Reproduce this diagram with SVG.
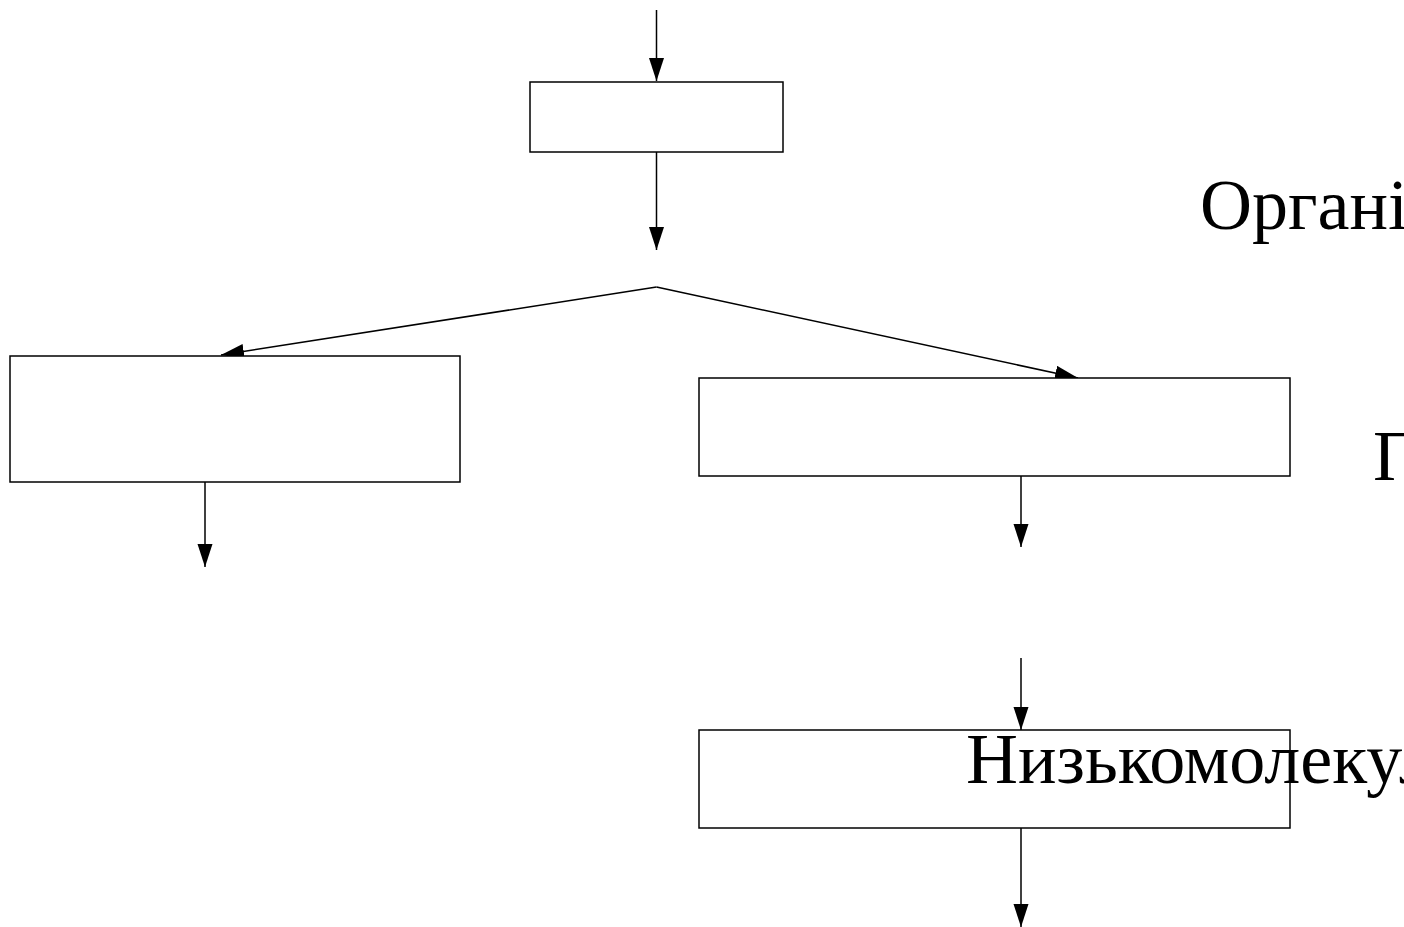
<svg xmlns="http://www.w3.org/2000/svg" width="1404" height="927" viewBox="0 0 1404 927">
  <defs>
    <marker id="arr" markerWidth="24" markerHeight="16" refX="23" refY="7.5" orient="auto" markerUnits="userSpaceOnUse">
      <path d="M0,0 L23,7.5 L0,15 Z" fill="#000"/>
    </marker>
    <style>
      .box { fill: #fff; stroke: #000; stroke-width: 1.5; }
      .ln { fill: none; stroke: #000; stroke-width: 1.5; }
      .lbl { font-family: "Liberation Serif", "Times New Roman", serif; font-size: 72px; fill: #000; }
    </style>
  </defs>
  <rect width="1404" height="927" fill="#fff"/>

  <g id="connectors">
    <line class="ln" x1="656.5" y1="10" x2="656.5" y2="81" marker-end="url(#arr)"/>
    <line class="ln" x1="656.5" y1="152" x2="656.5" y2="250" marker-end="url(#arr)"/>
    <line class="ln" x1="656.5" y1="287" x2="221" y2="355" marker-end="url(#arr)"/>
    <line class="ln" x1="656.5" y1="287" x2="1078" y2="378" marker-end="url(#arr)"/>
    <line class="ln" x1="205" y1="482" x2="205" y2="567" marker-end="url(#arr)"/>
    <line class="ln" x1="1021" y1="476" x2="1021" y2="547" marker-end="url(#arr)"/>
    <line class="ln" x1="1021" y1="658" x2="1021" y2="730" marker-end="url(#arr)"/>
    <line class="ln" x1="1021" y1="828" x2="1021" y2="927" marker-end="url(#arr)"/>
  </g>

  <g id="node-top"><rect class="box" x="530" y="82" width="253" height="70"/></g>
  <g id="node-left"><rect class="box" x="10" y="356" width="450" height="126"/></g>
  <g id="node-right"><rect class="box" x="699" y="378" width="591" height="98"/></g>
  <g id="node-bottom"><rect class="box" x="699" y="730" width="591" height="98"/></g>

  <g id="labels">
    <text class="lbl" x="1200" y="229">Органічні</text>
    <text class="lbl" x="1373" y="480">П</text>
    <text class="lbl" x="966" y="783">Низькомолекулярні</text>
  </g>
</svg>
